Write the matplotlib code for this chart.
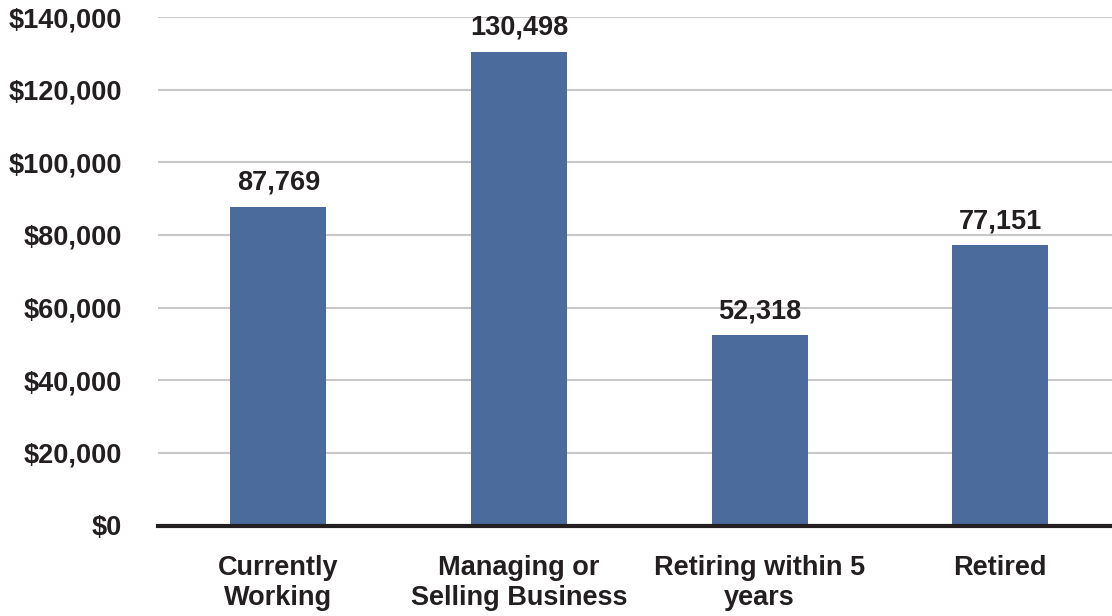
import matplotlib
matplotlib.use("Agg")
import matplotlib.pyplot as plt
from matplotlib.ticker import FuncFormatter

categories = ["Currently\nWorking", "Managing or\nSelling Business", "Retiring within 5\nyears", "Retired"]
values = [87769, 130498, 52318, 77151]
yticks = [0, 20000, 40000, 60000, 80000, 100000, 120000, 140000]

plt.rcParams['font.family'] = ['Liberation Sans', 'DejaVu Sans']
txt = '#231f20'
bar_color = '#4b6b9d'
fs = 19.5

fig = plt.figure(figsize=(11.12, 6.16), dpi=100)
ax = fig.add_axes([158/1112, 1-525.5/616, 1-158/1112, (525.5-17)/616])

x = list(range(len(categories)))
ax.bar(x, values, width=0.4, color=bar_color, zorder=3)
for xi, v in zip(x, values):
    ax.annotate(f"{v:,}", (xi, v), xytext=(0, 8), textcoords='offset points',
                ha='center', va='bottom', fontsize=fs, fontweight='bold', color=txt)

ax.set_xlim(-0.5, (1112-158)/240.67 - 0.5)
ax.set_ylim(0, 140000)
ax.set_yticks(yticks)
ax.yaxis.set_major_formatter(FuncFormatter(lambda v, p: f"${int(v):,}"))
ax.set_xticks(x)
ax.set_xticklabels(categories, linespacing=1.2)
ax.tick_params(axis='y', length=0, pad=26, labelsize=fs, labelcolor=txt)
ax.tick_params(axis='x', length=0, pad=21, labelsize=fs, labelcolor=txt)
for lab in ax.get_xticklabels() + ax.get_yticklabels():
    lab.set_fontweight('bold')

ax.grid(axis='y', color='#c8c8c8', linewidth=1.5, zorder=0)
ax.set_axisbelow(True)
for s in ['top', 'right', 'left']:
    ax.spines[s].set_visible(False)
ax.spines['bottom'].set_color(txt)
ax.spines['bottom'].set_linewidth(3)
ax.spines['bottom'].set_zorder(4)

fig.savefig("out.png", dpi=100)
